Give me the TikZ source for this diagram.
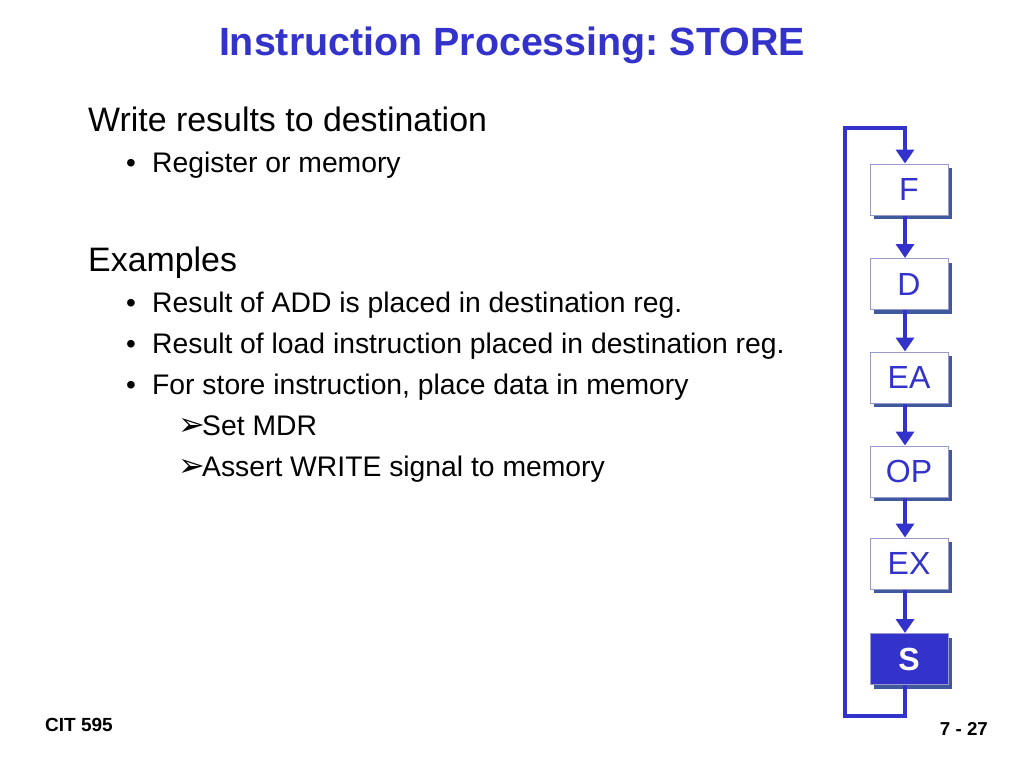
\documentclass[tikz,border=0pt]{standalone}
\usepackage{fontspec}
\setmainfont{Liberation Sans}
\newfontfamily\dejavu{DejaVu Sans}
\usetikzlibrary{arrows.meta}
\definecolor{tblue}{HTML}{3333CC}
\definecolor{bborder}{HTML}{9999CC}
\definecolor{bshadow}{HTML}{3F5A9C}
\frenchspacing
\begin{document}
\begin{tikzpicture}[x=1pt,y=-1pt,
  stage/.style={draw=bborder,line width=1pt,fill=white,minimum width=78pt,minimum height=51pt,inner sep=0pt,
     text=tblue,font=\fontsize{32}{32}\selectfont},
  stagesel/.style={stage,fill=tblue,text=white,font=\fontsize{32}{32}\selectfont\bfseries},
  flow/.style={draw=tblue,line width=4pt,-{Triangle[length=14pt,width=18pt]}},
  loopline/.style={draw=tblue,line width=4pt},
  body/.style={anchor=base west,inner sep=0pt,font=\fontsize{28.3}{28}\selectfont},
  head/.style={anchor=base west,inner sep=0pt,font=\fontsize{33.9}{34}\selectfont},
  bul/.style={anchor=base west,inner sep=0pt,font=\fontsize{28}{28}\selectfont},
  sub/.style={anchor=base west,inner sep=0pt},
]
\useasboundingbox (0,0) rectangle (1024,768);
\fill[white] (0,0) rectangle (1024,768);

% title
\node[anchor=base,inner sep=0pt,text=tblue,font=\fontsize{39.4}{40}\selectfont\bfseries] (title) at (512,56) {Instruction Processing: STORE};

% body text
\node[head] (t1) at (88,131) {Write results to destination};
\node[bul] (b1) at (126,172) {•};
\node[body] (t2) at (152,172) {Register or memory};
\node[head] (t3) at (88,271) {Examples};
\node[bul] (b2) at (126,312) {•};
\node[body] (t4) at (152,312) {Result of ADD is placed in destination reg.};
\node[bul] (b3) at (126,353) {•};
\node[body] (t5) at (152,353) {Result of load instruction placed in destination reg.};
\node[bul] (b4) at (126,394) {•};
\node[body] (t6) at (152,394) {For store instruction, place data in memory};
\node[sub] (a1) at (178,435) {\dejavu\fontsize{32}{32}\selectfont ➢};
\node[body] (t7) at (202,435) {Set MDR};
\node[sub] (a2) at (178,476) {\dejavu\fontsize{32}{32}\selectfont ➢};
\node[body] (t8) at (202,476) {Assert WRITE signal to memory};

% shadows
\foreach \y in {189.5,284,377.5,471.5,563.5,659}{
  \fill[bshadow] (909,\y) ++(-39+4,-25.5+4) rectangle ++(78,51);
}
% stages
\node[stage] (F) at (909,189.5) {F};
\node[stage] (D) at (909,284) {D};
\node[stage] (EA) at (909,377.5) {EA};
\node[stage] (OP) at (909,471.5) {OP};
\node[stage] (EX) at (909,563.5) {EX};
\node[stagesel] (S) at (909,659) {S};

% arrows
\coordinate (ltop) at (845,128);
\coordinate (lbot) at (845,716);
\draw[flow] (F.south -| 905,0) -- (D.north -| 905,0);
\draw[flow] (D.south -| 905,0) -- (EA.north -| 905,0);
\draw[flow] (EA.south -| 905,0) -- (OP.north -| 905,0);
\draw[flow] (OP.south -| 905,0) -- (EX.north -| 905,0);
\draw[flow] (EX.south -| 905,0) -- (S.north -| 905,0);
\draw[loopline,line join=miter] (S.south -| 905,0) -- (905,716) -- (lbot) -- (ltop) -- (905,128) -- ++(0,10);
\draw[flow] (905,128) -- (F.north -| 905,0);

% footer
\node[anchor=base west,inner sep=0pt,font=\fontsize{19}{19}\selectfont\bfseries] (cit) at (45,731) {CIT 595};
\node[anchor=base east,inner sep=0pt,font=\fontsize{18.7}{19}\selectfont\bfseries] (pg) at (988,735) {7 - 27};
\end{tikzpicture}
\end{document}
